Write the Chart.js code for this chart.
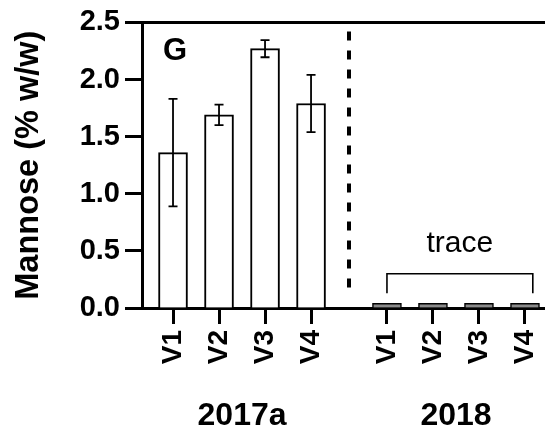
<!DOCTYPE html>
<html>
<head>
<meta charset="utf-8">
<script src="https://cdn.jsdelivr.net/npm/chart.js@4.4.1/dist/chart.umd.min.js"></script>
<style>
  body { margin: 0; background: #fff; }
  #wrap { width: 545px; height: 428px; }
</style>
</head>
<body>
<div id="wrap"><canvas id="chart" width="545" height="428"></canvas></div>
<script>
// ---------------- Data ----------------
const groups = ['2017a', '2018'];
const varieties = ['V1', 'V2', 'V3', 'V4'];
const mean2017a = [1.36, 1.69, 2.27, 1.79];
const err2017a = [0.47, 0.09, 0.075, 0.25];
const mean2018 = [0.04, 0.04, 0.04, 0.04];
const yTicks = [0, 0.5, 1.0, 1.5, 2.0, 2.5];
const traceLabel = 'trace';
const panelLabel = 'G';

// ---------------- Layout ----------------
const FONT = '"Liberation Sans", Arial, Helvetica, sans-serif';
const groupGap = 1.65;          // distance (in slots) between last bar of 2017a and first of 2018
const xs2017a = varieties.map((v, i) => i + 1);
const xs2018 = varieties.map((v, i) => 4 + groupGap + i);
const allX = xs2017a.concat(xs2018);
const allLabels = varieties.concat(varieties);

const dividerX = (xs2017a[3] + xs2018[0]) / 2;

const extras = {
  id: 'extras',
  afterDatasetsDraw(chart) {
    const { ctx, chartArea, scales: { x, y } } = chart;
    ctx.save();

    // top frame line
    ctx.strokeStyle = '#000';
    ctx.lineWidth = 3;
    ctx.beginPath();
    ctx.moveTo(chartArea.left, y.getPixelForValue(2.5));
    ctx.lineTo(chart.width, y.getPixelForValue(2.5));
    ctx.stroke();

    // error bars
    ctx.lineWidth = 1.8;
    mean2017a.forEach((m, i) => {
      const px = x.getPixelForValue(xs2017a[i]);
      const top = y.getPixelForValue(m + err2017a[i]);
      const bot = y.getPixelForValue(m - err2017a[i]);
      ctx.beginPath();
      ctx.moveTo(px, top); ctx.lineTo(px, bot);
      ctx.moveTo(px - 4.5, top); ctx.lineTo(px + 4.5, top);
      ctx.moveTo(px - 4.5, bot); ctx.lineTo(px + 4.5, bot);
      ctx.stroke();
    });

    // dashed divider
    ctx.lineWidth = 4;
    ctx.setLineDash([9, 10]);
    ctx.beginPath();
    const dx = x.getPixelForValue(dividerX);
    ctx.moveTo(dx, y.getPixelForValue(2.42));
    ctx.lineTo(dx, y.getPixelForValue(0.1));
    ctx.stroke();
    ctx.setLineDash([]);

    // trace bracket
    ctx.lineWidth = 1.6;
    const bl = x.getPixelForValue(xs2018[0]);
    const br = x.getPixelForValue(xs2018[3] + 0.17);
    const bt = y.getPixelForValue(0.3);
    const bb = y.getPixelForValue(0.13);
    ctx.beginPath();
    ctx.moveTo(bl, bb); ctx.lineTo(bl, bt); ctx.lineTo(br, bt); ctx.lineTo(br, bb);
    ctx.stroke();

    ctx.fillStyle = '#000';
    ctx.textAlign = 'center';
    ctx.textBaseline = 'alphabetic';
    ctx.font = '30px ' + FONT;
    ctx.fillText(traceLabel, (bl + br) / 2, y.getPixelForValue(0.49));

    // panel letter
    ctx.font = 'bold 31px ' + FONT;
    ctx.textAlign = 'left';
    ctx.fillText(panelLabel, chartArea.left + 21, chartArea.top + 38);

    // group labels
    ctx.font = 'bold 32px ' + FONT;
    ctx.textAlign = 'center';
    ctx.fillText(groups[0], x.getPixelForValue((xs2017a[0] + xs2017a[3]) / 2), 425);
    ctx.fillText(groups[1], x.getPixelForValue((xs2018[0] + xs2018[3]) / 2), 425);

    ctx.restore();
  }
};

new Chart(document.getElementById('chart'), {
  type: 'bar',
  data: {
    datasets: [{
      data: mean2017a.map((v, i) => ({ x: xs2017a[i], y: v })),
      backgroundColor: '#fff',
      borderColor: '#000',
      borderWidth: 2,
      barThickness: 29,
      grouped: false
    }, {
      data: mean2018.map((v, i) => ({ x: xs2018[i], y: v })),
      backgroundColor: '#8a8a8a',
      borderColor: '#000',
      borderWidth: 1.5,
      barThickness: 29,
      grouped: false
    }]
  },
  options: {
    responsive: false,
    animation: false,
    layout: { padding: { top: 22, right: 0, left: 0, bottom: 0 } },
    plugins: { legend: { display: false }, tooltip: { enabled: false } },
    scales: {
      x: {
        type: 'linear',
        offset: false,
        min: 0.326,
        max: 9.085,
        afterBuildTicks: (scale) => { scale.ticks = allX.map(v => ({ value: v })); },
        afterFit: (scale) => { scale.height = 120; scale.paddingLeft = 0; scale.paddingRight = 0; },
        grid: { offset: false, drawOnChartArea: false, drawTicks: true, tickLength: 16, tickWidth: 3, tickColor: '#000' },
        border: { display: true, color: '#000', width: 3 },
        ticks: {
          autoSkip: false,
          minRotation: 90,
          maxRotation: 90,
          padding: 6,
          color: '#000',
          font: { family: FONT, size: 28, weight: 'bold' },
          callback: (value, index) => allLabels[index]
        }
      },
      y: {
        min: 0,
        max: 2.5,
        afterBuildTicks: (scale) => { scale.ticks = yTicks.map(v => ({ value: v })); },
        afterFit: (scale) => { scale.width = 142; },
        grid: { drawOnChartArea: false, drawTicks: true, tickLength: 17, tickWidth: 3, tickColor: '#000' },
        border: { display: true, color: '#000', width: 3 },
        ticks: {
          padding: 5,
          color: '#000',
          font: { family: FONT, size: 29, weight: 'bold' },
          callback: (value) => value.toFixed(1)
        },
        title: {
          display: true,
          text: 'Mannose (% w/w)',
          color: '#000',
          font: { family: FONT, size: 32.5, weight: 'bold' },
          padding: { top: 10, bottom: 0 }
        }
      }
    }
  },
  plugins: [extras]
});
</script>
</body>
</html>
